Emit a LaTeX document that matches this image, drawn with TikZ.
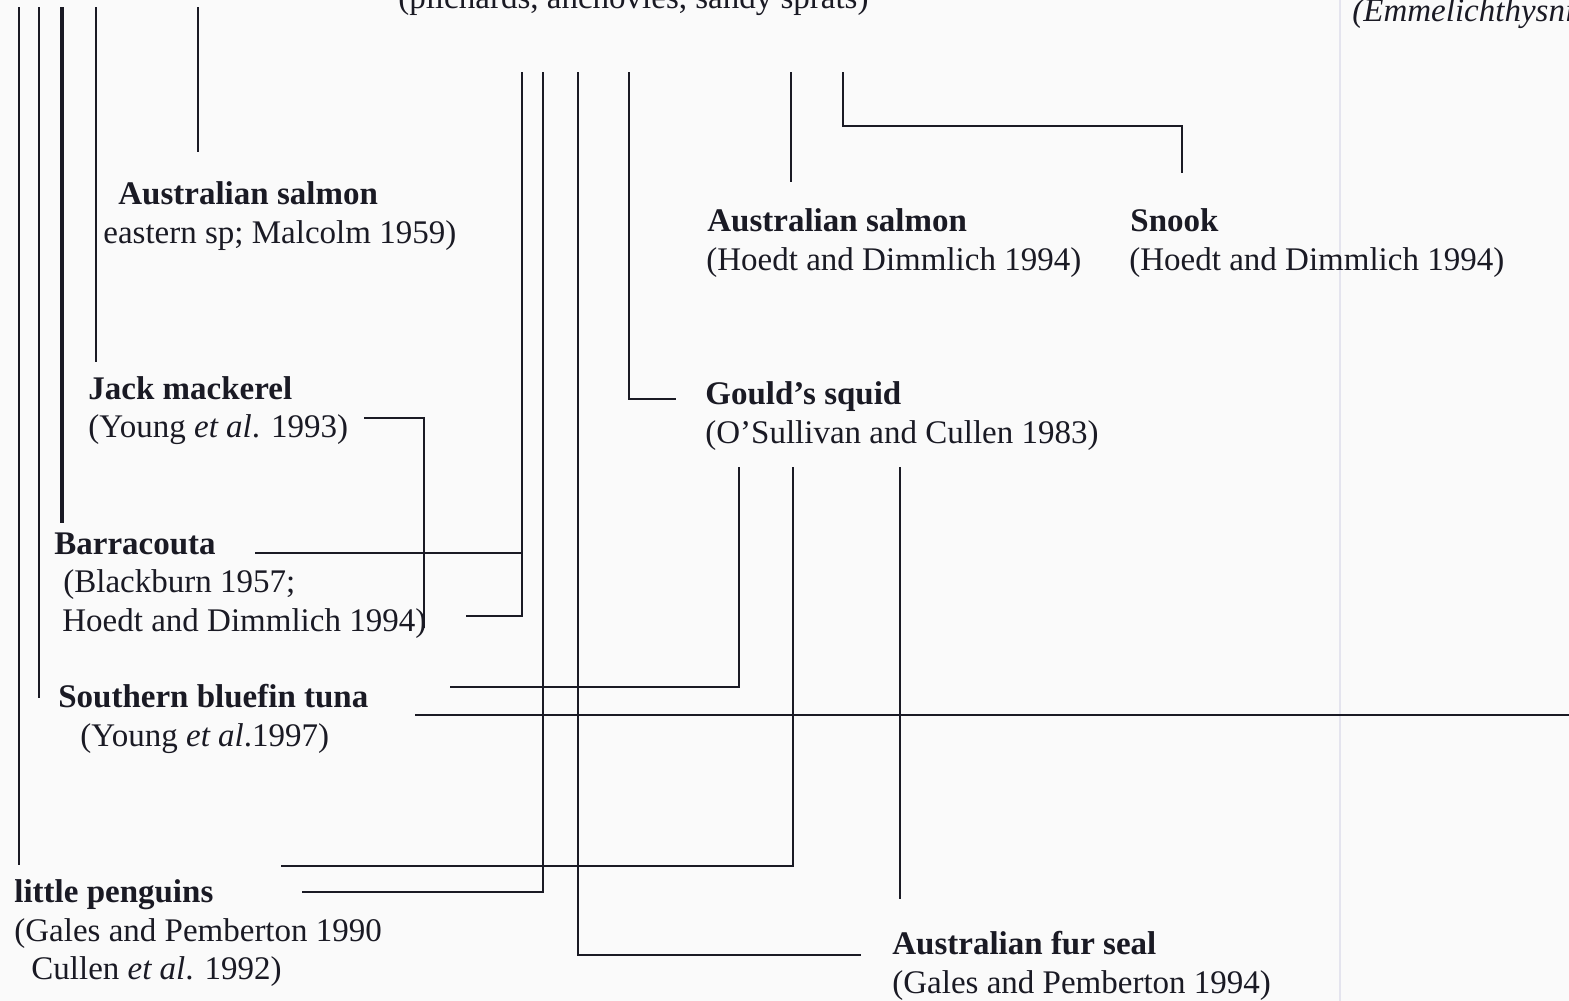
\documentclass[tikz,border=0pt]{standalone}
\usepackage{fontspec}
\setmainfont{Liberation Serif}
\definecolor{ink}{RGB}{26,26,36}
\definecolor{paper}{RGB}{250,250,250}
\definecolor{seam}{RGB}{228,228,238}
\begin{document}
\begin{tikzpicture}[x=0.5pt,y=-0.5pt,
  lbl/.style={anchor=base west,inner sep=0pt,text=ink,font=\fontsize{16.5pt}{19.5pt}\selectfont},
  ttl/.style={lbl,font=\fontsize{16.5pt}{19.5pt}\selectfont\bfseries},
  link/.style={draw=ink,line width=1pt},
  heavy/.style={draw=ink,line width=1.9pt}]
\useasboundingbox (0,0) rectangle (1569,1001);
\fill[paper] (0,0) rectangle (1569,1001);
\draw[seam,line width=0.9pt] (1340,0) -- (1340,1001);

% texts
\node[lbl] (prey) at (398,9) {(pilchards, anchovies, sandy sprats)};
\node[lbl,font=\fontsize{16.5pt}{19.5pt}\selectfont\itshape] (emm) at (1352,21) {(Emmelichthysnitidus)};
\node[ttl] (salL) at (118,204) {Australian salmon};
\node[lbl] (salLref) at (103,243) {eastern sp; Malcolm 1959)};
\node[ttl] (salM) at (707,231) {Australian salmon};
\node[lbl] (salMref) at (706,270) {(Hoedt and Dimmlich 1994)};
\node[ttl] (snook) at (1130,231) {Snook};
\node[lbl] (snookref) at (1129,270) {(Hoedt and Dimmlich 1994)};
\node[ttl] (jack) at (88,399) {Jack mackerel};
\node[lbl] (jackref) at (88,437) {(Young \textit{et al}. 1993)};
\node[ttl] (gould) at (705,404) {Gould’s squid};
\node[lbl] (gouldref) at (705,443) {(O’Sullivan and Cullen 1983)};
\node[ttl] (barra) at (54,554) {Barracouta};
\node[lbl] (barraref1) at (63,592) {(Blackburn 1957;};
\node[lbl] (barraref2) at (62,631) {Hoedt and Dimmlich 1994)};
\node[ttl] (tuna) at (58,707) {Southern bluefin tuna};
\node[lbl] (tunaref) at (80,746) {(Young \textit{et al}.1997)};
\node[ttl] (peng) at (14,902) {little penguins};
\node[lbl] (pengref1) at (14,941) {(Gales and Pemberton 1990};
\node[lbl] (pengref2) at (31,979) {Cullen \textit{et al}. 1992)};
\node[ttl] (seal) at (892,954) {Australian fur seal};
\node[lbl] (sealref) at (892,993) {(Gales and Pemberton 1994)};

% connector end points
\coordinate (a1) at (19,7);   \coordinate (a2) at (19,865);
\coordinate (b1) at (39,7);   \coordinate (b2) at (39,698);
\coordinate (c1) at (62,7);   \coordinate (c2) at (62,523);
\coordinate (d1) at (96,7);   \coordinate (d2) at (96,362);
\coordinate (e1) at (198,7);  \coordinate (e2) at (198,152);

\coordinate (m1) at (522,72); \coordinate (m1b) at (522,616); \coordinate (m1c) at (466,616);
\coordinate (br1) at (255,553); \coordinate (br2) at (522,553);
\coordinate (m2) at (543,72); \coordinate (m2b) at (543,892); \coordinate (m2c) at (302,892);
\coordinate (m3) at (578,72); \coordinate (m3b) at (578,955); \coordinate (m3c) at (861,955);
\coordinate (m4) at (629,72); \coordinate (m4b) at (629,399); \coordinate (m4c) at (676,399);
\coordinate (m5) at (791,72); \coordinate (m5b) at (791,182);
\coordinate (m6) at (843,72); \coordinate (m6b) at (843,126); \coordinate (m6c) at (1182,126); \coordinate (m6d) at (1182,173);

\coordinate (j1) at (364,418); \coordinate (j2) at (424,418); \coordinate (j3) at (424,628);

\coordinate (g1) at (739,467); \coordinate (g1b) at (739,687); \coordinate (g1c) at (450,687);
\coordinate (g2) at (793,467); \coordinate (g2b) at (793,866); \coordinate (g2c) at (281,866);
\coordinate (g3) at (900,467); \coordinate (g3b) at (900,899);

\coordinate (t1) at (415,715); \coordinate (t2) at (1569,715);

% connectors
\draw[link] (a1) -- (a2);
\draw[link] (b1) -- (b2);
\draw[heavy] (c1) -- (c2);
\draw[link] (d1) -- (d2);
\draw[link] (e1) -- (e2);

\draw[link] (m1) -- (m1b) -- (m1c);
\draw[link] (br1) -- (br2);
\draw[link] (m2) -- (m2b) -- (m2c);
\draw[link] (m3) -- (m3b) -- (m3c);
\draw[link] (m4) -- (m4b) -- (m4c);
\draw[link] (m5) -- (m5b);
\draw[link] (m6) -- (m6b) -- (m6c) -- (m6d);

\draw[link] (j1) -- (j2) -- (j3);

\draw[link] (g1) -- (g1b) -- (g1c);
\draw[link] (g2) -- (g2b) -- (g2c);
\draw[link] (g3) -- (g3b);

\draw[link] (t1) -- (t2);
\end{tikzpicture}
\end{document}
